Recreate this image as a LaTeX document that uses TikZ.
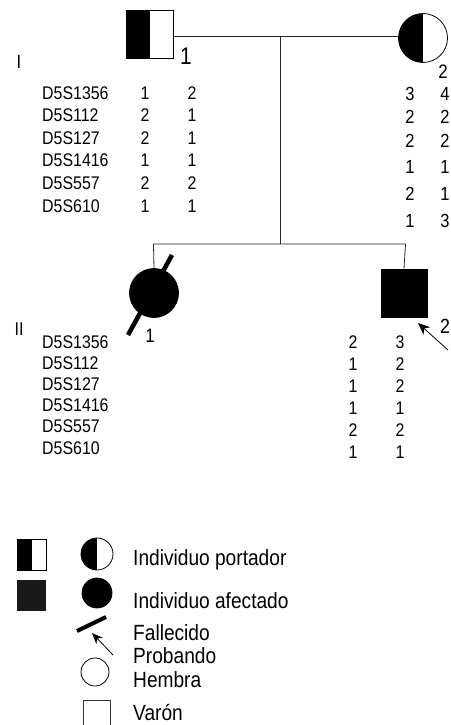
\documentclass[tikz,border=0pt]{standalone}
\usepackage{fontspec}
\setmainfont[FakeStretch=0.87]{Liberation Sans}
\usetikzlibrary{arrows.meta}
\tikzset{
  line/.style={draw=black!85, line width=0.8pt},
  sq/.style={rectangle, draw=black, line width=0.8pt, inner sep=0pt},
  ci/.style={circle, draw=black, line width=0.8pt, inner sep=0pt},
  halfblack/.style={path picture={\fill[black] (path picture bounding box.south west) rectangle (path picture bounding box.north);}},
  deceased/.style={line width=4.5pt, black},
  probarrow/.style={line width=0.8pt, -{Stealth[length=12pt,width=10pt]}},
  mk/.style={anchor=base west, inner sep=0pt, font=\fontsize{18.3}{19}\selectfont},
  num/.style={anchor=base, inner sep=0pt, font=\fontsize{18.3}{19}\selectfont},
  mnum/.style={anchor=base, inner sep=0pt, font=\fontsize{19}{20}\selectfont},
  lbl/.style={anchor=base, inner sep=0pt},
  leg/.style={anchor=base west, inner sep=0pt, font=\fontsize{22}{23}\selectfont},
}
\begin{document}
\begin{tikzpicture}[x=1pt,y=-1pt]
\useasboundingbox (0,0) rectangle (450,725);
\fill[white] (0,0) rectangle (450,725);

% generation I
\node[sq, halfblack, minimum width=47pt, minimum height=48pt] (father) at (150,34) {};
\node[ci, halfblack, minimum size=49pt] (mother) at (423,38) {};
\coordinate (m) at (280,36.5);
\coordinate (s) at (280,244);
\draw[line] (father.east |- m) -- (mother.west |- m);
\draw[line] (m) -- (s);

% generation II
\node[ci, fill=black, minimum size=49pt] (c1) at (154,293) {};
\node[sq, fill=black, minimum width=46pt, minimum height=48pt] (c2) at (404,293) {};
\coordinate (s1) at (153.5,244);
\coordinate (s2) at (405.5,244);
\draw[line] (c1.north) -- (s1) -- (s2) -- (c2.north);
\coordinate (d1a) at (128,335);
\coordinate (d1b) at (172,255);
\draw[deceased] (d1a) -- (d1b);
\coordinate (pa) at (448,350);
\coordinate (pb) at (418,323);
\draw[probarrow] (pa) -- (pb);

% labels
\node[lbl, font=\fontsize{19}{20}\selectfont] (genI) at (19,68) {I};
\node[lbl, font=\fontsize{18.5}{19}\selectfont] (genII) at (19,335) {II};
\node[lbl, font=\fontsize{24}{25}\selectfont] (fl) at (186,65) {1};
\node[lbl, font=\fontsize{19.5}{20}\selectfont] (ml) at (443,78) {2};
\node[lbl, font=\fontsize{19.5}{20}\selectfont] (c1l) at (150,342) {1};
\node[lbl, font=\fontsize{20.5}{21}\selectfont] (c2l) at (445,333) {2};

% father markers
\foreach \n/\a/\b [count=\i from 0] in {D5S1356/1/2, D5S112/2/1, D5S127/2/1, D5S1416/1/1, D5S557/2/2, D5S610/1/1}{
  \node[mk] (fm\i) at (42,99+22.6*\i) {\n};
  \node[num] (fa\i) at (145,99+22.6*\i) {\a};
  \node[num] (fb\i) at (192,99+22.6*\i) {\b};
}
% mother alleles
\foreach \a/\b/\y [count=\i from 0] in {3/4/100, 2/2/123.5, 2/2/147, 1/1/173, 2/1/200, 1/3/227}{
  \node[mnum] (ma\i) at (410,\y) {\a};
  \node[mnum] (mb\i) at (445,\y) {\b};
}
% generation II markers
\foreach \n [count=\i from 0] in {D5S1356, D5S112, D5S127, D5S1416, D5S557, D5S610}{
  \node[mk] (cm\i) at (42,348+21.2*\i) {\n};
}
\foreach \a/\b [count=\i from 0] in {2/3, 1/2, 1/2, 1/1, 2/2, 1/1}{
  \node[num] (ca\i) at (353,348+22*\i) {\a};
  \node[num] (cb\i) at (400,348+22*\i) {\b};
}

% legend
\node[sq, halfblack, minimum width=29pt, minimum height=31pt] (lsq1) at (31.5,554.5) {};
\node[ci, halfblack, minimum size=32pt] (lci1) at (97,554) {};
\node[leg] (t1) at (133,565) {Individuo portador};
\node[rectangle, fill=black!90, inner sep=0pt, minimum width=29pt, minimum height=31pt] (lsq2) at (31.5,595.5) {};
\node[ci, fill=black, minimum size=30pt] (lci2) at (97,593) {};
\node[leg] (t2) at (133,608) {Individuo afectado};
\coordinate (ld1) at (77,631);
\coordinate (ld2) at (106,617);
\draw[line width=4pt, black] (ld1) -- (ld2);
\node[leg] (t3) at (133,640) {Fallecido};
\coordinate (la1) at (113,655);
\coordinate (la2) at (92,633);
\draw[line width=0.8pt, -{Stealth[length=11pt,width=9pt]}] (la1) -- (la2);
\node[leg] (t4) at (133,663) {Probando};
\node[ci, minimum size=28pt] (lci3) at (95,672) {};
\node[leg] (t5) at (133,687) {Hembra};
\node[sq, draw=black!80, minimum width=27pt, minimum height=27pt] (lsq3) at (96.5,713.5) {};
\node[leg] (t6) at (133,720.5) {Varón};
\end{tikzpicture}
\end{document}
